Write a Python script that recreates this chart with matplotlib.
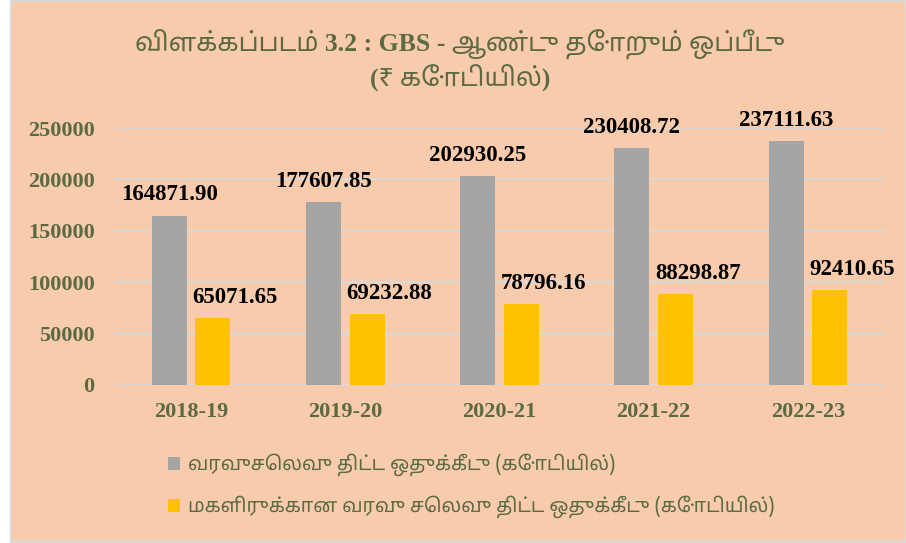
import numpy as np
import matplotlib
matplotlib.use("Agg")
import matplotlib.pyplot as plt
from matplotlib.patches import Rectangle

years = ["2018-19", "2019-20", "2020-21", "2021-22", "2022-23"]
gbs_total = [164871.90, 177607.85, 202930.25, 230408.72, 237111.63]
gbs_women = [65071.65, 69232.88, 78796.16, 88298.87, 92410.65]
legend_labels = ["வரவுசெலவு திட்ட ஒதுக்கீடு (கோடியில்)",
                 "மகளிருக்கான வரவு செலவு திட்ட ஒதுக்கீடு (கோடியில்)"]
title_1 = "விளக்கப்படம் 3.2 : GBS - ஆண்டு தோறும் ஒப்பீடு"
title_2 = "(₹ கோடியில்)"

peach = "#F8CBAD"
olive = "#5B6A41"
serif = ["Liberation Serif", "Noto Sans Tamil", "Noto Serif Tamil", "Lohit Tamil", "FreeSerif", "DejaVu Sans"]
sans = ["Noto Sans Tamil", "Lohit Tamil", "FreeSans", "Noto Sans", "DejaVu Sans"]

fig = plt.figure(figsize=(9.06, 5.43), dpi=100, facecolor="white")
# peach panel with thin grey border, white strip on the left
fig.patches.append(Rectangle((11 / 906, 1 / 543), 1 - 11 / 906, 1 - 2 / 543,
                             transform=fig.transFigure, facecolor=peach,
                             edgecolor="#D9D9D9", linewidth=1.5, zorder=-1))

ax = fig.add_axes([114 / 906, 1 - 385 / 543, 771 / 906, 257 / 543])
ax.set_facecolor("none")

x = np.arange(len(years))
w = 0.227
off = 0.142
b1 = ax.bar(x - off, gbs_total, w, color="#A5A5A5", zorder=3)
b2 = ax.bar(x + off, gbs_women, w, color="#FFC000", zorder=3)

for xi, v in zip(x, gbs_total):
    ax.annotate(f"{v:.2f}", (xi - off, v), xytext=(0, 11), textcoords="offset points",
                ha="center", va="baseline", fontsize=16.5, fontweight="bold",
                family="Liberation Serif", color="black", annotation_clip=False)
for xi, v in zip(x, gbs_women):
    ax.annotate(f"{v:.2f}", (xi + off, v), xytext=(16, 11), textcoords="offset points",
                ha="center", va="baseline", fontsize=16.5, fontweight="bold",
                family="Liberation Serif", color="black", annotation_clip=False)

ax.set_xlim(-0.5, len(years) - 0.5)
ax.set_ylim(0, 250000)
ax.set_yticks(np.arange(0, 250001, 50000))
ax.set_xticks(x)
ax.set_xticklabels(years)
ax.yaxis.grid(True, color="#D9D9D9", linewidth=1.5, zorder=0)
ax.set_axisbelow(True)
for s in ax.spines.values():
    s.set_visible(False)
ax.tick_params(axis="both", length=0, labelsize=16, labelcolor=olive)
ax.tick_params(axis="y", pad=14)
ax.tick_params(axis="x", pad=12)
for lab in ax.get_xticklabels() + ax.get_yticklabels():
    lab.set_family("Liberation Serif")
    lab.set_fontweight("bold")

fig.text(0.508, 1 - 45 / 543, title_1, ha="center", va="center", fontsize=18.5,
         fontweight="bold", family=serif, color=olive)
fig.text(0.508, 1 - 78 / 543, title_2, ha="center", va="center", fontsize=18.5,
         fontweight="bold", family=serif, color=olive)

fig.legend([b1, b2], legend_labels, loc="upper left", bbox_to_anchor=(150 / 906, 1 - 436 / 543),
           frameon=False, handlelength=0.65, handleheight=0.65, handletextpad=0.4,
           labelspacing=1.0, prop={"family": sans, "size": 14}, labelcolor=olive)

fig.savefig("out.png", dpi=100, facecolor=fig.get_facecolor())
